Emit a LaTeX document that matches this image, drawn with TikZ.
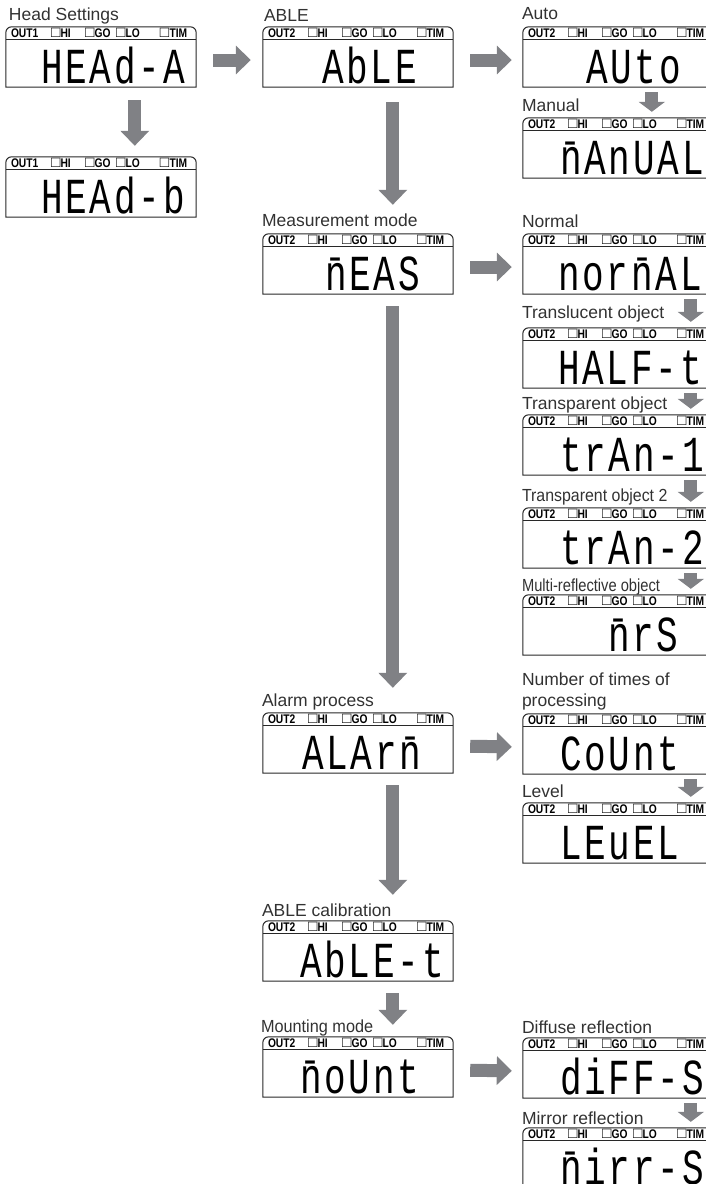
\documentclass[tikz,border=0pt]{standalone}
\usepackage{fontspec}
\usepackage{graphicx}
\setmainfont{Liberation Sans}
\newfontfamily\segfont[LetterSpace=8]{Liberation Mono}
\usetikzlibrary{arrows.meta}
\definecolor{flowGray}{RGB}{128,129,133}
\definecolor{lcdLine}{RGB}{40,40,40}
\definecolor{lblGray}{RGB}{50,50,50}
\tikzset{
  lcdbox/.style   = {minimum width=190pt, minimum height=60pt, inner sep=0pt},
  lcdhead/.style  = {inner sep=0pt, font=\fontsize{12.5}{12.5}\selectfont\bfseries},
  lcdtext/.style  = {inner sep=0pt, font=\fontsize{36}{36}\segfont},
  lbl/.style      = {inner sep=0pt, anchor=base west, text=lblGray,
                     font=\fontsize{17.5}{21}\selectfont},
  flowarr/.style  = {-{Triangle[length=15pt,width=28pt]}, line width=13pt, flowGray},
  flowarrs/.style = {-{Triangle[length=10pt,width=26pt]}, line width=13pt, flowGray,
                     shorten <=5pt, shorten >=6pt}
}
\newcommand{\lcdsq}{{\mdseries\fontsize{15.5}{11}\selectfont □}\kern0.2pt}
\newcommand{\lcdnarrow}[1]{\scalebox{0.82}[1]{#1}}
\newcommand{\lcdhd}[1]{\makebox[40pt][l]{\lcdnarrow{#1}}\makebox[34pt][l]{\lcdsq\lcdnarrow{HI}}%
  \makebox[31pt][l]{\lcdsq\lcdnarrow{GO}}\makebox[44pt][l]{\lcdsq\lcdnarrow{LO}}\lcdsq\lcdnarrow{TIM}}
% display panel: name, left x, top y, output, reading, text offset
\newcommand{\lcdpanel}[6]{%
  \node[lcdbox] (#1) at (#2+95,#3+30) {};
  \draw[lcdLine, line width=1pt] (#1.south west) -- ([yshift=-6pt]#1.north west)
    .. controls ([yshift=-2.5pt]#1.north west) and ([xshift=2.5pt]#1.north west) .. ([xshift=6pt]#1.north west)
    -- ([xshift=-6pt]#1.north east)
    .. controls ([xshift=-2.5pt]#1.north east) and ([yshift=-2.5pt]#1.north east) .. ([yshift=-6pt]#1.north east)
    -- (#1.south east) -- cycle;
  \draw[lcdLine, line width=0.8pt] ([yshift=-13pt]#1.north west) -- ([yshift=-13pt]#1.north east);
  \node[lcdhead, anchor=west] (#1-hd) at ([xshift=5pt,yshift=-6.5pt]#1.north west) {\lcdhd{#4}};
  \node[lcdtext, anchor=base west] (#1-txt) at ([xshift=#6,yshift=4pt]#1.south west) {\scalebox{1}[1.4]{#5}};
}

\begin{document}
\begin{tikzpicture}[x=1pt, y=-1pt]
  \path[use as bounding box, clip] (0,0) rectangle (706,1184);

  % left column
  \lcdpanel{hda}{6}{27}{OUT1}{HEAd-A}{35pt}
  \node[lbl] (hda-lbl) at ([xshift=3pt,yshift=6pt]hda.north west) {Head Settings};
  \lcdpanel{hdb}{6}{157}{OUT1}{HEAd-b}{35pt}

  % middle column
  \lcdpanel{able}{263}{27}{OUT2}{AbLE}{59pt}
  \node[lbl] (able-lbl) at ([xshift=1pt,yshift=5pt]able.north west) {ABLE};
  \lcdpanel{meas}{263}{234}{OUT2}{\=nEAS}{62pt}
  \node[lbl] (meas-lbl) at ([xshift=-1pt,yshift=7pt]meas.north west) {Measurement mode};
  \lcdpanel{alarm}{263}{713}{OUT2}{ALAr\=n}{39pt}
  \node[lbl] (alarm-lbl) at ([xshift=-1pt,yshift=6pt]alarm.north west) {Alarm process};
  \lcdpanel{ablet}{263}{921}{OUT2}{AbLE-t}{37pt}
  \node[lbl] (ablet-lbl) at ([xshift=-1pt,yshift=4pt]ablet.north west) {ABLE calibration};
  \lcdpanel{mount}{263}{1037}{OUT2}{\=noUnt}{37pt}
  \node[lbl] (mount-lbl) at ([xshift=-2pt,yshift=4pt]mount.north west) {\scalebox{0.93}[1]{Mounting mode}};

  % right column
  \lcdpanel{auto}{523}{27}{OUT2}{AUto}{63pt}
  \node[lbl] (auto-lbl) at ([xshift=-1pt,yshift=7pt]auto.north west) {Auto};
  \lcdpanel{manual}{523}{118}{OUT2}{\=nAnUAL}{37pt}
  \node[lbl] (manual-lbl) at ([xshift=-1pt,yshift=6pt]manual.north west) {Manual};
  \lcdpanel{normal}{523}{234}{OUT2}{nor\=nAL}{35pt}
  \node[lbl] (normal-lbl) at ([xshift=-1pt,yshift=6pt]normal.north west) {Normal};
  \lcdpanel{half}{523}{328}{OUT2}{HALF-t}{35pt}
  \node[lbl] (half-lbl) at ([xshift=-1pt,yshift=9pt]half.north west) {Translucent object};
  \lcdpanel{tran1}{523}{415}{OUT2}{trAn-1}{37pt}
  \node[lbl] (tran1-lbl) at ([xshift=-1pt,yshift=5pt]tran1.north west) {Transparent object};
  \lcdpanel{tran2}{523}{508}{OUT2}{trAn-2}{37pt}
  \node[lbl] (tran2-lbl) at ([xshift=-1pt,yshift=6pt]tran2.north west) {\scalebox{0.91}[1]{Transparent object 2}};
  \lcdpanel{mrs}{523}{595}{OUT2}{\=nrS}{85pt}
  \node[lbl] (mrs-lbl) at ([xshift=-1pt,yshift=3pt]mrs.north west) {\scalebox{0.84}[1]{Multi-reflective object}};
  \lcdpanel{count}{523}{714}{OUT2}{CoUnt}{37pt}
  \node[lbl, anchor=south west, align=left] (count-lbl) at ([xshift=-1pt,yshift=3.5pt]count.north west)
    {Number of times of\\processing};
  \lcdpanel{level}{523}{803}{OUT2}{LEuEL}{37pt}
  \node[lbl] (level-lbl) at ([xshift=-1pt,yshift=5pt]level.north west) {Level};
  \lcdpanel{diffuse}{523}{1038}{OUT2}{diFF-S}{37pt}
  \node[lbl] (diffuse-lbl) at ([xshift=-1pt,yshift=4pt]diffuse.north west) {Diffuse reflection};
  \lcdpanel{mirror}{523}{1128}{OUT2}{\=nirr-S}{37pt}
  \node[lbl] (mirror-lbl) at ([xshift=-1pt,yshift=3pt]mirror.north west) {Mirror reflection};

  % across
  \draw[flowarr, shorten <=17pt, shorten >=12pt] ([yshift=-3pt]hda.east) -- ([yshift=-3pt]able.west);
  \draw[flowarr, shorten <=17pt, shorten >=11pt] ([yshift=-3pt]able.east) -- ([yshift=-3pt]auto.west);
  \draw[flowarr, shorten <=17pt, shorten >=11pt] ([yshift=-3pt]meas.east) -- ([yshift=-3pt]normal.west);
  \draw[flowarr, shorten <=17pt, shorten >=11pt] ([yshift=-3pt]alarm.east) -- ([yshift=-3pt]count.west);
  \draw[flowarr, shorten <=17pt, shorten >=11pt] ([yshift=-3pt]mount.east) -- ([yshift=-3pt]diffuse.west);

  % down, left and middle
  \draw[flowarr, shorten <=13pt, shorten >=11pt] ([xshift=129pt]hda.south west) -- ([xshift=129pt]hdb.north west);
  \draw[flowarr, shorten <=15pt, shorten >=29pt] ([xshift=130pt]able.south west) -- ([xshift=130pt]meas.north west);
  \draw[flowarr, shorten <=12pt, shorten >=25pt] ([xshift=130pt]meas.south west) -- ([xshift=130pt]alarm.north west);
  \draw[flowarr, shorten <=12pt, shorten >=26pt] ([xshift=130pt]alarm.south west) -- ([xshift=130pt]ablet.north west);
  \draw[flowarr, shorten <=12pt, shorten >=12pt] ([xshift=130pt]ablet.south west) -- ([xshift=130pt]mount.north west);

  % down, right
  \draw[flowarrs] ([xshift=129pt]auto.south west) -- ([xshift=129pt]manual.north west);
  \draw[flowarrs] ([xshift=168pt]normal.south west) -- ([xshift=168pt]half.north west);
  \draw[flowarrs] ([xshift=168pt]half.south west) -- ([xshift=168pt]tran1.north west);
  \draw[flowarrs] ([xshift=168pt]tran1.south west) -- ([xshift=168pt]tran2.north west);
  \draw[flowarrs] ([xshift=168pt]tran2.south west) -- ([xshift=168pt]mrs.north west);
  \draw[flowarrs] ([xshift=168pt]count.south west) -- ([xshift=168pt]level.north west);
  \draw[flowarrs] ([xshift=168pt]diffuse.south west) -- ([xshift=168pt]mirror.north west);
\end{tikzpicture}
\end{document}
